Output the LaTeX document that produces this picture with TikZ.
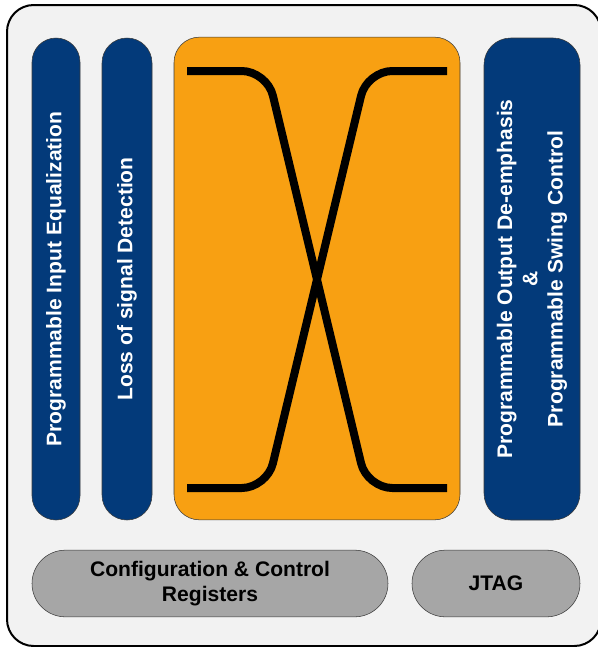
\documentclass[tikz,border=0pt]{standalone}
\usepackage{fontspec}
\setmainfont{Liberation Sans}
\usetikzlibrary{positioning}
\definecolor{navy}{HTML}{033A7A}
\definecolor{amber}{HTML}{F8A012}
\definecolor{panel}{HTML}{F2F2F2}
\definecolor{pill}{HTML}{A6A6A6}
\definecolor{rim}{HTML}{3A3A3A}
\tikzset{
  label font/.style={font=\fontsize{15.8}{19}\selectfont\bfseries},
  lane/.style={draw=rim,fill=navy,text=white,rotate=90,inner sep=0pt,
    align=center,minimum width=361.5pt,label font},
  switchbox/.style={draw=rim,fill=amber,inner sep=0pt,rounded corners=19pt,
    minimum width=214.5pt,minimum height=362pt},
  regpill/.style={draw=rim,fill=pill,text=black,inner sep=0pt,align=center,
    rounded corners=25pt,minimum height=50pt,label font},
  wire/.style={line width=6pt,rounded corners=19pt}
}
\begin{document}
\begin{tikzpicture}[x=0.75pt,y=-0.75pt]
  \useasboundingbox (0,0) rectangle (598,647);
  % outer panel
  \draw[line width=1.5pt,fill=panel,rounded corners=20pt] (7,5) rectangle (601,646);

  % receive side lanes
  \node[lane,minimum height=36pt,rounded corners=18pt] (eq) at (56,279)
    {Programmable Input Equalization};
  \node[lane,minimum height=37.5pt,rounded corners=18.7pt] (los) at (127,279)
    {Loss of signal Detection};

  % crosspoint switch
  \node[switchbox] (xbar) at (317,278.5) {};
  \coordinate (inA) at (187,71);
  \coordinate (inB) at (447,71);
  \coordinate (outA) at (447,488);
  \coordinate (outB) at (187,488);
  \draw[wire] (inA) -- (267,71) -- (367,488) -- (outA);
  \draw[wire] (inB) -- (367,71) -- (267,488) -- (outB);

  % transmit side lane
  \node[lane,minimum height=72pt,rounded corners=20pt] (deemph) at (532,279)
    {Programmable Output De-emphasis\\ \&\\ Programmable Swing Control};

  % registers
  \node[regpill,minimum width=267pt] (cfg) at (210,583.5)
    {Configuration \& Control\\Registers};
  \node[regpill,minimum width=126pt] (jtag) at (496,583.5) {JTAG};
\end{tikzpicture}
\end{document}
